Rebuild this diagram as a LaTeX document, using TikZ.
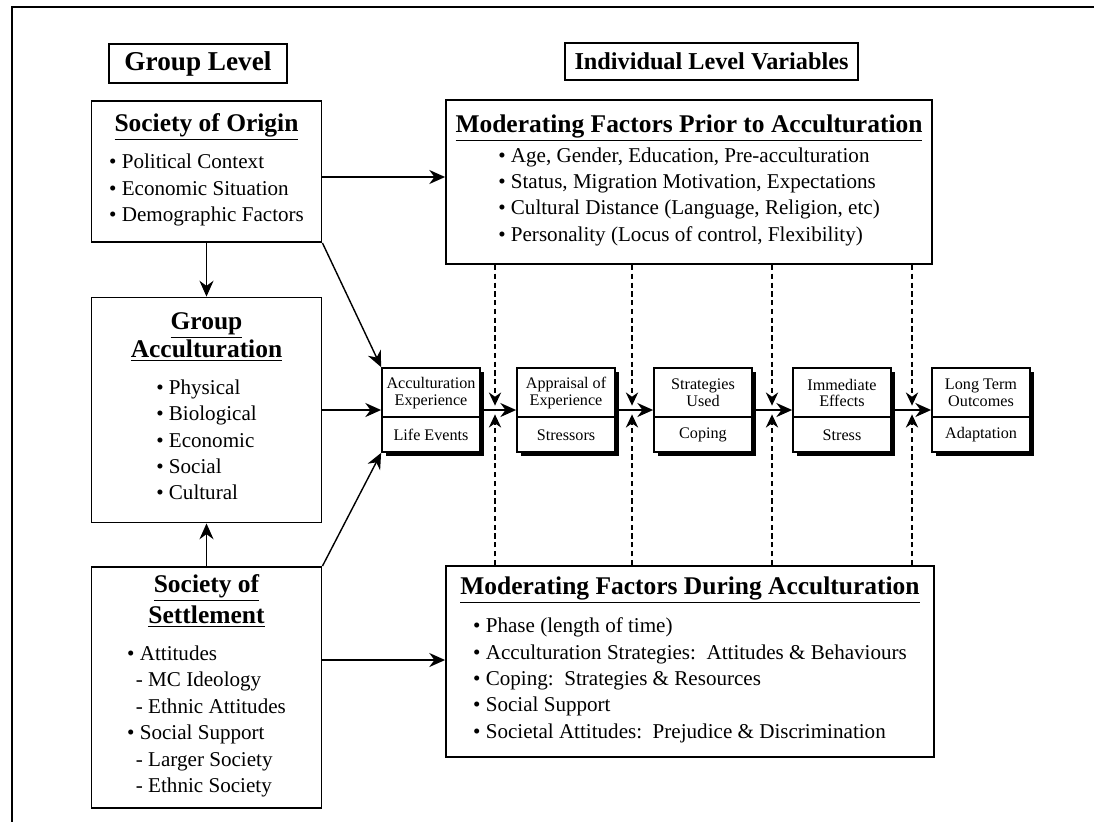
\documentclass[tikz,border=0pt]{standalone}
\usepackage{fontspec}
\setmainfont{Liberation Serif}
\usetikzlibrary{arrows.meta,shadows}

\newcommand{\boxtitle}[1]{{\fontsize{14.5}{17}\selectfont\bfseries\underline{#1}}}

\tikzset{
  bigbox/.style={draw, line width=1.1pt, align=center, inner sep=0pt, font=\fontsize{12}{15}\selectfont},
  headbox/.style={draw, line width=1pt, inner sep=0pt, font=\bfseries},
  stage/.style={draw, line width=1pt, fill=white, inner sep=0pt, minimum width=1.96cm, minimum height=1.68cm,
    drop shadow={shadow xshift=2pt, shadow yshift=-2pt, fill=black, opacity=1}},
  stagetxt/.style={align=center, inner sep=0pt, font=\fontsize{9.2}{9.5}\selectfont},
  link/.style={-{Stealth[length=9pt,width=8pt]}, line width=0.8pt},
  modlink/.style={-{Stealth[length=7.5pt,width=7pt]}, line width=0.8pt, densely dashed},
}

\begin{document}
\begin{tikzpicture}[x=0.02cm, y=-0.02cm]
            \useasboundingbox (0,0) rectangle (1094,822);
            \draw[line width=1pt] (1094,7) -- (12,7) -- (12,822);

            % headings
            \node[headbox, minimum width=3.56cm, minimum height=0.78cm, font=\fontsize{15.5}{18}\selectfont\bfseries] (grouplevel) at (198,63.5) {Group Level};
            \node[headbox, minimum width=5.86cm, minimum height=0.74cm, font=\fontsize{13.8}{16}\selectfont\bfseries] (indivlevel) at (711.5,61.5) {Individual Level Variables};

            % group level boxes
            \node[bigbox, minimum width=4.6cm, minimum height=2.82cm] (origin) at (206.5,171.5) {%
                \boxtitle{Society of Origin}\\[4.5pt]
                \begin{tabular}[t]{@{}l@{}}
                \textbullet\ Political Context\\
                \textbullet\ Economic Situation\\
                \textbullet\ Demographic Factors
                \end{tabular}};
            \node[bigbox, minimum width=4.6cm, minimum height=4.5cm] (groupacc) at (206.5,410) {%
                \boxtitle{Group}\\
                \boxtitle{Acculturation}\\[6pt]
                \begin{tabular}[t]{@{}l@{}}
                \textbullet\ Physical\\
                \textbullet\ Biological\\
                \textbullet\ Economic\\
                \textbullet\ Social\\
                \textbullet\ Cultural
                \end{tabular}};
            \node[bigbox, minimum width=4.6cm, minimum height=4.82cm] (settlement) at (206.5,687.5) {%
                \boxtitle{Society of}\\[1.5pt]
                \boxtitle{Settlement}\\[6pt]
                \begin{tabular}[t]{@{}l@{}}
                \textbullet\ Attitudes\\
                \hspace{5pt}- MC Ideology\\
                \hspace{5pt}- Ethnic Attitudes\\
                \textbullet\ Social Support\\
                \hspace{5pt}- Larger Society\\
                \hspace{5pt}- Ethnic Society
                \end{tabular}};

            % moderating factors
            \node[bigbox, minimum width=9.72cm, minimum height=3.28cm] (prior) at (689,182) {%
                \boxtitle{Moderating Factors Prior to Acculturation}\\
                \begin{tabular}[t]{@{}l@{}}
                \textbullet\ Age, Gender, Education, Pre-acculturation\\
                \textbullet\ Status, Migration Motivation, Expectations\\
                \textbullet\ Cultural Distance (Language, Religion, etc)\\
                \textbullet\ Personality (Locus of control, Flexibility)
                \end{tabular}};
            \node[bigbox, minimum width=9.76cm, minimum height=3.82cm] (during) at (690,661.5) {%
                \boxtitle{Moderating Factors During Acculturation}\\[5pt]
                \begin{tabular}[t]{@{}l@{}}
                \textbullet\ Phase (length of time)\\
                \textbullet\ Acculturation Strategies:\ \ Attitudes \& Behaviours\\
                \textbullet\ Coping:\ \ Strategies \& Resources\\
                \textbullet\ Social Support\\
                \textbullet\ Societal Attitudes:\ \ Prejudice \& Discrimination
                \end{tabular}};

            % individual level stages
            \node[stage] (s1) at (431,410) {};
            \node[stage] (s2) at (566,410) {};
            \node[stage] (s3) at (703,410) {};
            \node[stage] (s4) at (842,410) {};
            \node[stage] (s5) at (981,410) {};
            \draw[line width=0.9pt] (s1.west |- 0,417) -- (s1.east |- 0,417);
            \draw[line width=0.9pt] (s2.west |- 0,417) -- (s2.east |- 0,417);
            \draw[line width=0.9pt] (s3.west |- 0,417) -- (s3.east |- 0,417);
            \draw[line width=0.9pt] (s4.west |- 0,417) -- (s4.east |- 0,417);
            \draw[line width=0.9pt] (s5.west |- 0,417) -- (s5.east |- 0,417);

            \node[stagetxt] (s1top) at (431,393) {Acculturation\\Experience};
            \node[stagetxt] (s2top) at (566,393) {Appraisal of\\Experience};
            \node[stagetxt] (s3top) at (703,393) {Strategies\\Used};
            \node[stagetxt] (s4top) at (842,393) {Immediate\\Effects};
            \node[stagetxt] (s5top) at (981,393) {Long Term\\Outcomes};
            \node[stagetxt] (s1bot) at (431,435) {Life Events};
            \node[stagetxt] (s2bot) at (566,435) {Stressors};
            \node[stagetxt] (s3bot) at (703,435) {Coping};
            \node[stagetxt] (s4bot) at (842,435) {Stress};
            \node[stagetxt] (s5bot) at (981,435) {Adaptation};

            % group level arrows
            \draw[link] (origin.south) -- (groupacc.north);
            \draw[link] (settlement.north) -- (groupacc.south);
            \draw[link] (origin.east |- 0,177) -- (prior.west |- 0,177);
            \draw[link] (settlement.east |- 0,660) -- (during.west |- 0,660);
            \draw[link] (origin.south east) -- (s1.north west);
            \draw[link] (groupacc.east) -- (s1.west);
            \draw[link] (settlement.north east) -- (s1.south west);

            % stage arrows
            \draw[link] (s1.east) -- (s2.west);
            \draw[link] (s2.east) -- (s3.west);
            \draw[link] (s3.east) -- (s4.west);
            \draw[link] (s4.east) -- (s5.west);

            % moderating arrows
            \coordinate (m1) at (495,410);
            \coordinate (m2) at (632,410);
            \coordinate (m3) at (772,410);
            \coordinate (m4) at (912,410);
            \draw[modlink] (prior.south -| m1) -- ([yshift=2.5pt]m1);
            \draw[modlink] (prior.south -| m2) -- ([yshift=2.5pt]m2);
            \draw[modlink] (prior.south -| m3) -- ([yshift=2.5pt]m3);
            \draw[modlink] (prior.south -| m4) -- ([yshift=2.5pt]m4);
            \draw[modlink] (during.north -| m1) -- ([yshift=-2.5pt]m1);
            \draw[modlink] (during.north -| m2) -- ([yshift=-2.5pt]m2);
            \draw[modlink] (during.north -| m3) -- ([yshift=-2.5pt]m3);
            \draw[modlink] (during.north -| m4) -- ([yshift=-2.5pt]m4);
        \end{tikzpicture}
\end{document}
